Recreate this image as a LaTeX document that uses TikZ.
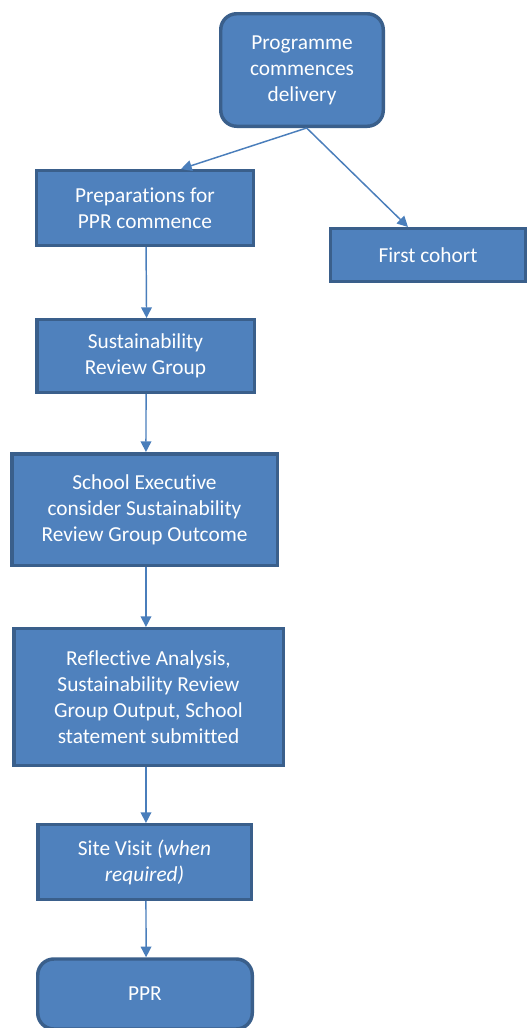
\documentclass[tikz,border=0pt]{standalone}
\usepackage{fontspec}
\setmainfont{Carlito}[RawFeature={-liga;-clig;-calt;-dlig}]
\usetikzlibrary{arrows.meta}
\definecolor{boxfill}{HTML}{4F81BD}
\definecolor{boxline}{HTML}{3A5F8B}
\definecolor{arrowline}{HTML}{4A7EBB}
\begin{document}
\begin{tikzpicture}[x=0.75pt,y=-0.75pt,
  stage/.style={draw=boxline,fill=boxfill,line width=2.6pt,text=white,align=center,
    inner sep=0pt,font=\fontsize{16}{19.5}\selectfont},
  roundstage/.style={stage,rounded corners=12pt},
  flow/.style={draw=arrowline,line width=1.1pt,-{Triangle[width=8pt,length=8pt]}}]
\useasboundingbox (0,0) rectangle (528,1028);
\clip (0,0) rectangle (528,1028);
\node[roundstage,minimum width=121.9pt,minimum height=84.4pt] (prog) at (302,70) {Programme\\commences\\delivery};
\node[stage,minimum width=162.4pt,minimum height=55.9pt] (prep) at (145,208) {Preparations for\\PPR commence};
\node[stage,minimum width=145.9pt,minimum height=39.4pt] (cohort) at (428,255) {First cohort};
\node[stage,minimum width=163.1pt,minimum height=54.4pt] (srg) at (145.5,356) {Sustainability\\Review Group};
\node[stage,minimum width=199.1pt,minimum height=83.6pt] (exec) at (144.5,509.5) {School Executive\\consider Sustainability\\Review Group Outcome};
\node[stage,minimum width=202.1pt,minimum height=102.4pt] (refl) at (148.5,697) {Reflective Analysis,\\Sustainability Review\\Group Output, School\\statement submitted};
\node[stage,minimum width=160.1pt,minimum height=55.9pt] (site) at (144.5,862) {Site Visit \textit{(when}\\\textit{required)}};
\node[roundstage,minimum width=160.9pt,minimum height=52.5pt] (ppr) at (145,994) {PPR};
% connectors
\draw[flow] ([xshift=3.5pt]prog.south) -- ([xshift=27pt]prep.north);
\draw[flow] ([xshift=3.5pt]prog.south) -- ([xshift=-15pt]cohort.north);
\draw[flow] ([xshift=0.8pt]prep.south) -- ([xshift=0.8pt]srg.north);
\draw[flow] ([xshift=0.4pt]srg.south) -- ([xshift=1.1pt]exec.north);
\draw[flow] ([xshift=1.1pt]exec.south) -- ([xshift=-1.9pt]refl.north);
\draw[flow] ([xshift=-1.9pt]refl.south) -- ([xshift=1.1pt]site.north);
\draw[flow] ([xshift=1.1pt]site.south) -- ([xshift=0.8pt]ppr.north);
\end{tikzpicture}
\end{document}
